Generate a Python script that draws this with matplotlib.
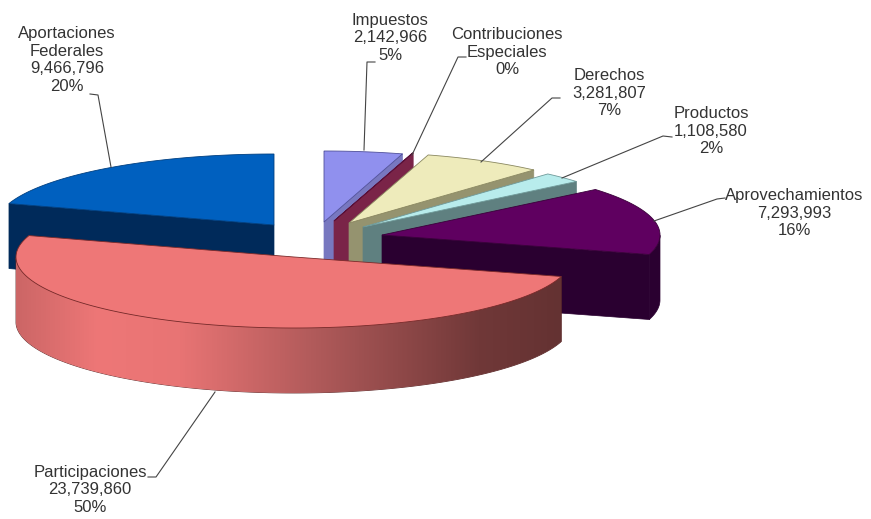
import matplotlib
matplotlib.use('Agg')
import matplotlib.pyplot as plt
import numpy as np
from matplotlib.colors import LinearSegmentedColormap
from matplotlib.patches import Polygon

plt.rcParams['font.family'] = ['Liberation Sans', 'DejaVu Sans']

# Data, in pie order (clockwise from the top)
categories = ['Impuestos', 'Contribuciones\nEspeciales', 'Derechos', 'Productos',
              'Aprovechamientos', 'Participaciones', 'Aportaciones\nFederales']
values = [2142966, 20000, 3281807, 1108580, 7293993, 23739860, 9466796]
show_value = [True, False, True, True, True, True, True]

# Styles
top_colors = ['#9090EE', '#7F2050', '#EEEBBB', '#B8ECEC', '#5F0060', '#EE7777', '#0060BF']
side_colors = ['#7878C0', '#7A2448', '#95936F', '#5F8080', '#2A0030', '#A05050', '#002A5A']
edge_colors = ['#50509A', '#5A1038', '#8A8860', '#6F9A9A', '#3A003A', '#7A2A2A', '#003F80']
draw_rank = [1, 2, 3, 4, 5, 6, 0]  # Aportaciones sits behind everything

# Exploded position of each slice's apex, in pixels
apex_x = [324, 334, 349, 363, 382, 294, 274]
apex_y = [222, 221, 223, 227, 235, 257, 225]
radius_x = 278
radius_y = 71
depth = 65

# Label centres and leader lines, in pixels
label_x = [390, 507, 609, 711, 794, 90, 67]
label_y = [38, 52, 93, 131, 213, 490, 60]
leader_x = [[375, 367, 364], [466, 458, 412], [560, 552, 481], [672, 663, 562],
            [725, 717, 654], [148, 156, 215], [90, 98, 111]]
leader_y = [[62, 62, 150], [57, 57, 155], [98, 98, 162], [137, 136, 178],
            [198, 199, 221], [477, 477, 392], [94, 95, 167]]

fig = plt.figure(figsize=(8.71, 5.19), dpi=100)
ax = fig.add_axes([0, 0, 1, 1])
ax.set_xlim(0, 871)
ax.set_ylim(519, 0)
ax.axis('off')

total = sum(values)
bounds = np.concatenate([[0], np.cumsum(values)]) / total * 2 * np.pi

# Participaciones rim shading, left to right
rim_cmap = LinearSegmentedColormap.from_list(
    'rim', [(0, '#CC6666'), (0.15, '#EE7777'), (0.3, '#E87474'),
            (0.55, '#B05A5A'), (0.85, '#703838'), (1, '#643232')])


def rim(cx, cy, t):
    return cx + radius_x * np.sin(t), cy - radius_y * np.cos(t)


for i in range(len(values)):
    t0, t1 = bounds[i], bounds[i + 1]
    cx, cy = apex_x[i], apex_y[i]
    z = draw_rank[i] * 3
    ts = np.linspace(t0, t1, 200)
    x, y = rim(cx, cy, ts)

    # radial face that looks at the viewer
    t_face = t0 if categories[i].startswith('Aportaciones') else t1
    fx, fy = rim(cx, cy, t_face)
    if categories[i] != 'Participaciones':
        ax.add_patch(Polygon([(cx, cy), (fx, fy), (fx, fy + depth), (cx, cy + depth)],
                             facecolor=side_colors[i], edgecolor=side_colors[i], lw=0.5, zorder=z))

    # outer wall, only the front half of the ellipse shows
    front = ts[(ts >= np.pi / 2) & (ts <= 3 * np.pi / 2)]
    if len(front) > 1:
        wx, wy = rim(cx, cy, front)
        wall = np.column_stack([np.r_[wx, wx[::-1]], np.r_[wy, wy[::-1] + depth]])
        if categories[i] == 'Participaciones':
            patch = Polygon(wall, facecolor='none', edgecolor='#5A2828', lw=0.6, zorder=z + 1)
            ax.add_patch(patch)
            img = ax.imshow(np.linspace(0, 1, 256).reshape(1, -1), cmap=rim_cmap, aspect='auto',
                            extent=(wx.min(), wx.max(), wy.max() + depth, wy.min()), zorder=z + 1)
            img.set_clip_path(patch)
            ax.set_xlim(0, 871)
            ax.set_ylim(519, 0)
        else:
            ax.add_patch(Polygon(wall, facecolor=side_colors[i], edgecolor=side_colors[i], lw=0.5, zorder=z + 1))

    # top surface
    ax.add_patch(Polygon(np.column_stack([np.r_[cx, x], np.r_[cy, y]]), facecolor=top_colors[i],
                         edgecolor=edge_colors[i], lw=0.6, zorder=z + 2))

# Labels
for i in range(len(values)):
    pct = '{:.0f}%'.format(values[i] / total * 100)
    if show_value[i]:
        text = '{}\n{:,}\n{}'.format(categories[i], values[i], pct)
    else:
        text = '{}\n{}'.format(categories[i], pct)
    ax.text(label_x[i], label_y[i], text, ha='center', va='center', fontsize=12,
            color='#333333', linespacing=1.22, zorder=40)
    ax.plot(leader_x[i], leader_y[i], color='#444444', lw=0.8, zorder=30)

fig.savefig('out.png', dpi=100)
